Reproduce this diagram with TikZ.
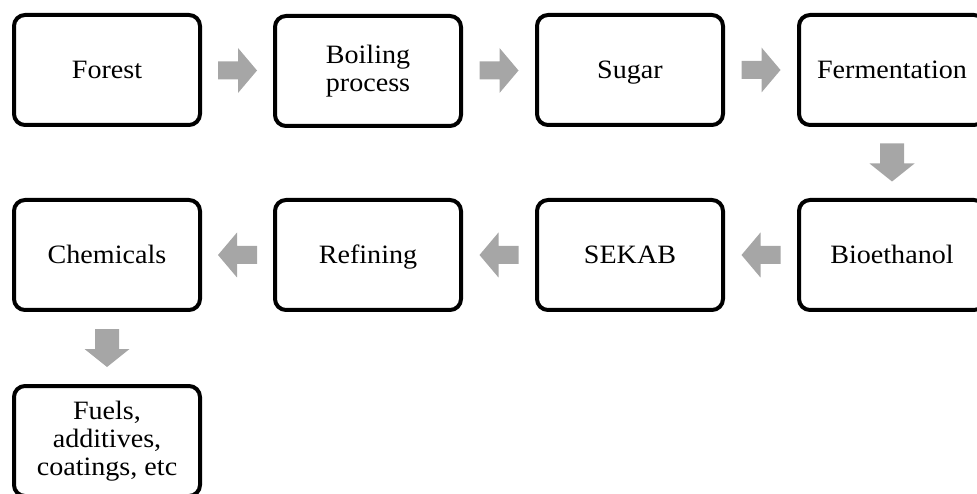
\documentclass[tikz,border=0pt]{standalone}
\usepackage{fontspec}
\setmainfont{Liberation Serif}[FakeStretch=1.06]
\usetikzlibrary{calc}
\definecolor{arrowgray}{HTML}{A6A6A6}
\tikzset{
  stage/.style={draw=black, line width=4pt, rounded corners=11pt, fill=white,
    minimum width=186pt, minimum height=110pt, align=center, inner sep=0pt,
    font=\fontsize{26.5pt}{28pt}\selectfont},
  % one-line labels: caps centred in the box
  oneline/.style={stage, text height=17.5pt, text depth=0pt},
  rarrow/.pic={\fill[arrowgray] (-19.5,-9) -- (0.5,-9) -- (0.5,-22.5) -- (19.5,0)
    -- (0.5,22.5) -- (0.5,9) -- (-19.5,9) -- cycle;},
  larrow/.pic={\fill[arrowgray] (19.5,-9) -- (-0.5,-9) -- (-0.5,-22.5) -- (-19.5,0)
    -- (-0.5,22.5) -- (-0.5,9) -- (19.5,9) -- cycle;},
  darrow/.pic={\fill[arrowgray] (-12,-19) -- (-12,1) -- (-22.5,1) -- (0,19)
    -- (22.5,1) -- (12,1) -- (12,-19) -- cycle;},
}
\begin{document}
\begin{tikzpicture}[x=1pt,y=-1pt]
  \useasboundingbox (0,0) rectangle (977,494);
  \begin{scope}
  \clip (0,0) rectangle (977,494);
  % first row, left to right
  \node[oneline] (forest) at (107,70) {Forest};
  \node[stage]   (boil)   at (368,71) {Boiling\\process};
  \node[oneline] (sugar)  at (630,70) {Sugar};
  \node[oneline] (ferm)   at (892,70) {Fermentation};
  % second row, right to left
  \node[oneline] (bioeth) at (892,255) {Bioethanol};
  \node[oneline] (sekab)  at (630,255) {SEKAB};
  \node[oneline] (refine) at (368,255) {Refining};
  \node[oneline] (chem)   at (107,255) {Chemicals};
  % products
  \node[stage]   (fuels)  at (107,441) {Fuels,\\additives,\\coatings, etc};
  % block arrows between the stages
  \pic at ($(forest.east)!0.5!(boil.west)$) {rarrow};
  \pic at ($(boil.east)!0.5!(sugar.west)$) {rarrow};
  \pic at ($(sugar.east)!0.5!(ferm.west)$) {rarrow};
  \pic at ($(ferm.south)!0.5!(bioeth.north)$) {darrow};
  \pic at ($(bioeth.west)!0.5!(sekab.east)$) {larrow};
  \pic at ($(sekab.west)!0.5!(refine.east)$) {larrow};
  \pic at ($(refine.west)!0.5!(chem.east)$) {larrow};
  \pic at ($(chem.south)!0.5!(fuels.north)$) {darrow};
  \end{scope}
\end{tikzpicture}
\end{document}
